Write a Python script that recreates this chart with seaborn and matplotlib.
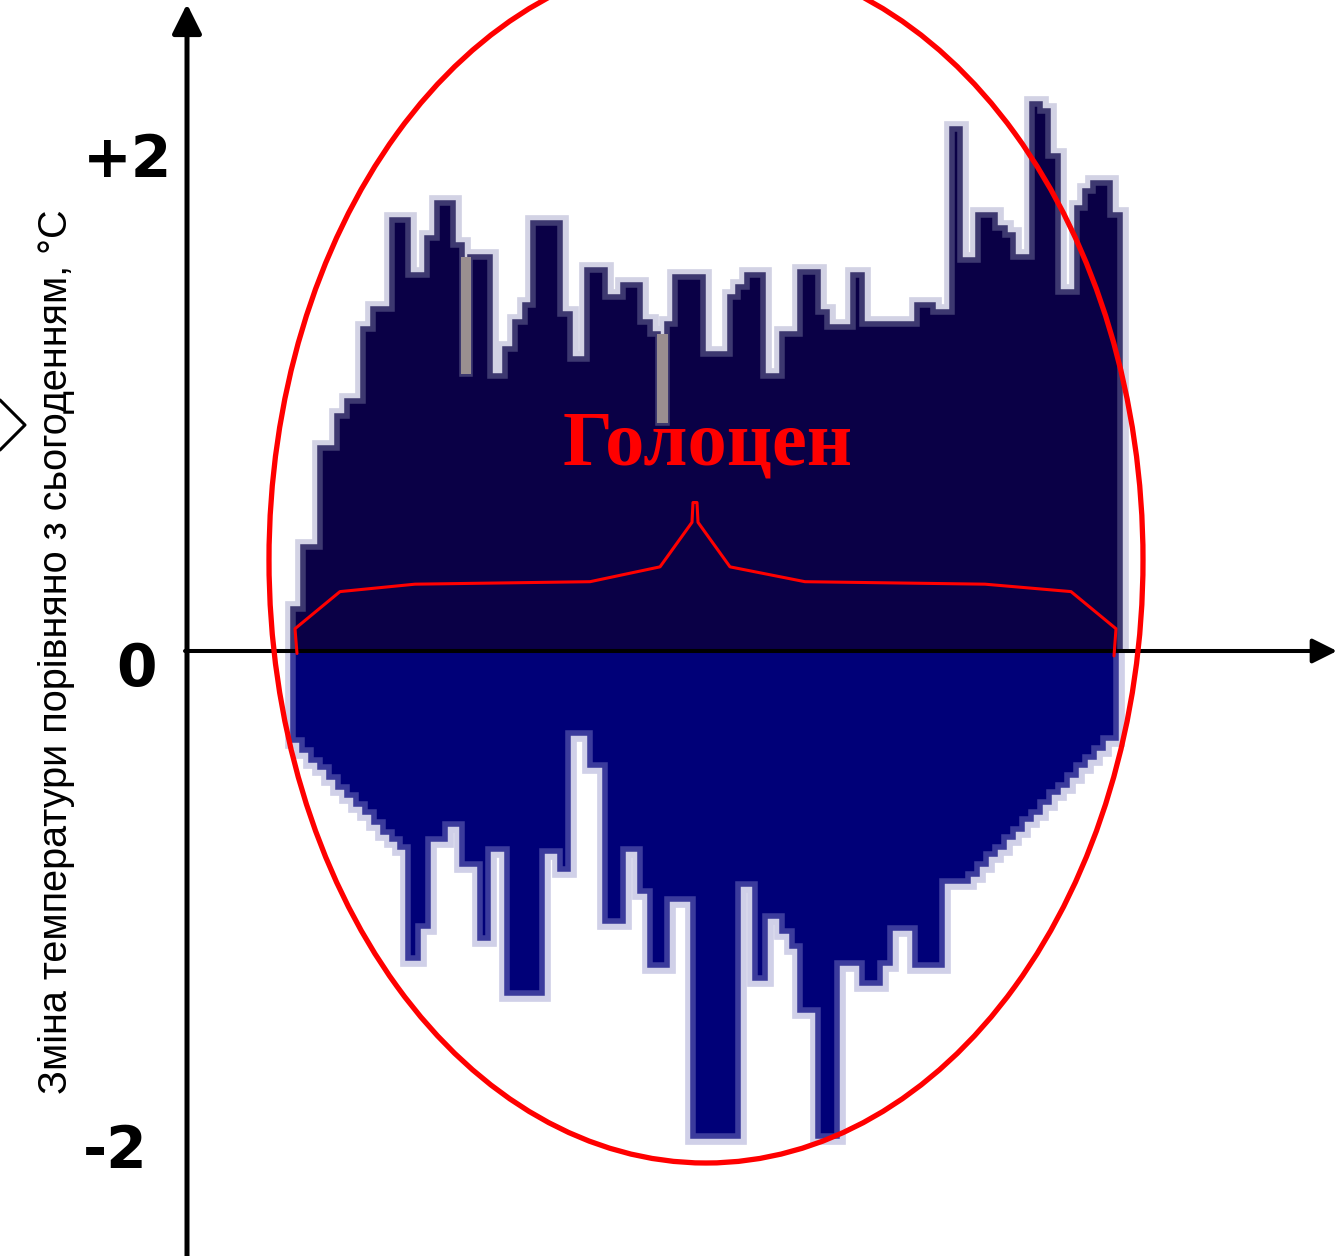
import matplotlib
matplotlib.use("Agg")
import matplotlib.pyplot as plt
from matplotlib.patches import Ellipse
import seaborn as sns

sns.set_style("white")
plt.rcParams['font.family'] = ['Liberation Sans', 'DejaVu Sans']
plt.rcParams['text.color'] = 'black'

# --- data (x in picture units, temperature in degC relative to today) ---
upper_edges = [293, 303, 320, 337, 347, 363, 373, 392, 408, 427,
               437, 453, 462, 470, 490, 505, 515, 525, 533, 560,
               570, 587, 605, 623, 640, 650, 658, 667, 675, 703,
               730, 738, 747, 763, 782, 800, 818, 827, 853, 862,
               917, 933, 952, 960, 978, 995, 1005, 1013, 1032, 1040,
               1048, 1058, 1077, 1085, 1093, 1110, 1120]
upper_vals = [0.17, 0.42, 0.82, 0.95, 1.01, 1.30, 1.38, 1.74, 1.52, 1.67,
              1.81, 1.64, 1.12, 1.59, 1.11, 1.22, 1.33, 1.40, 1.73, 1.36,
              1.18, 1.54, 1.43, 1.48, 1.33, 1.28, 0.92, 1.32, 1.51, 1.20,
              1.43, 1.47, 1.52, 1.11, 1.28, 1.53, 1.37, 1.31, 1.52, 1.32,
              1.40, 1.37, 2.11, 1.58, 1.76, 1.71, 1.68, 1.59, 2.21, 2.18,
              2.00, 1.45, 1.79, 1.86, 1.89, 1.76]

lower_edges = [293, 302, 311, 320, 329, 338, 347, 356, 365, 374,
               383, 392, 400, 408, 418, 428, 445, 462, 480, 488,
               507, 542, 560, 568, 590, 605, 623, 640, 650, 667,
               693, 738, 755, 765, 782, 792, 800, 818, 837, 862,
               880, 890, 915, 942, 968, 977, 986, 995, 1004, 1013,
               1022, 1031, 1040, 1049, 1058, 1067, 1076, 1085, 1094, 1103,
               1116]
lower_vals = [-0.36, -0.40, -0.44, -0.47, -0.51, -0.55, -0.58, -0.62, -0.65, -0.69,
              -0.73, -0.76, -0.79, -1.24, -1.11, -0.76, -0.70, -0.86, -1.16, -0.80,
              -1.38, -0.81, -0.88, -0.33, -0.46, -1.09, -0.80, -0.97, -1.27, -1.00,
              -1.96, -0.94, -1.32, -1.07, -1.13, -1.19, -1.45, -1.96, -1.26, -1.34,
              -1.26, -1.12, -1.27, -0.93, -0.90, -0.86, -0.82, -0.79, -0.75, -0.72,
              -0.68, -0.65, -0.61, -0.57, -0.54, -0.50, -0.46, -0.43, -0.39, -0.35]

# greyish columns inside the upper profile
gray_left = [461, 657]
gray_right = [471, 668]
gray_low = [1.12, 0.92]
gray_high = [1.59, 1.28]

# curly brace under the label
brace_x = [297, 295, 340, 415, 590, 660, 692, 693, 697, 698, 730, 805, 985, 1071, 1116, 1114]
brace_y = [-0.01, 0.09, 0.24, 0.27, 0.28, 0.34, 0.52, 0.60, 0.60, 0.52, 0.34, 0.28, 0.27, 0.24, 0.09, -0.02]

tick_vals = [2, 0, -2]
tick_labels = ['+2', '0', '-2']
tick_x = [83, 116, 83]

px = 247.5  # picture pixels per degree
ymin, ymax = (651 - 1256) / px, 651 / px

fig = plt.figure(figsize=(13.44, 12.56), dpi=100)
ax = fig.add_axes([0, 0, 1, 1])
ax.set_xlim(0, 1344)
ax.set_ylim(ymin, ymax)
ax.axis('off')


def profile(edges, vals, fill, mid, light):
    xs = [edges[0]] + edges[:-1] + [edges[-1], edges[-1]]
    ys = [0] + vals + [vals[-1], 0]
    sns.lineplot(x=xs, y=ys, ax=ax, sort=False, estimator=None, drawstyle='steps-post',
                 color=light, lw=12, solid_joinstyle='miter', solid_capstyle='butt',
                 zorder=1, legend=False)
    ax.fill_between(edges, vals + [vals[-1]], 0, step='post', color=fill, lw=0, zorder=2)
    sns.lineplot(x=xs, y=ys, ax=ax, sort=False, estimator=None, drawstyle='steps-post',
                 color=mid, lw=4, solid_joinstyle='miter', solid_capstyle='butt',
                 zorder=3, legend=False)


profile(upper_edges, upper_vals, '#0a0046', '#3d3870', '#d2d2e4')
profile(lower_edges, lower_vals, '#000078', '#3b3b9c', '#d0d0e8')
ax.set_xlabel('')
ax.set_ylabel('')

for l, r, lo, hi in zip(gray_left, gray_right, gray_low, gray_high):
    ax.fill_between([l, r], [lo, lo], [hi, hi], color='#9a8f90', lw=0, zorder=4)

# axes with arrows
ax.annotate('', xy=(187, (651 - 4) / px), xytext=(187, ymin - 0.1),
            arrowprops=dict(arrowstyle='-|>,head_length=1.0,head_width=0.5', color='black',
                            lw=3.6, mutation_scale=18, shrinkA=0, shrinkB=0), zorder=5)
ax.annotate('', xy=(1337, 0), xytext=(185, 0),
            arrowprops=dict(arrowstyle='-|>,head_length=1.0,head_width=0.5', color='black',
                            lw=2.9, mutation_scale=15, shrinkA=0, shrinkB=0), zorder=5)

# red oval and brace
ax.add_patch(Ellipse((706, (651 - 560) / px), 874, 2 * 603 / px, fill=False,
                     edgecolor='#ff0000', lw=3.8, zorder=6))
ax.plot(brace_x, brace_y, color='#ff0000', lw=2.2, zorder=7)

ax.text(708, (651 - 465) / px, 'Голоцен', color='#ff0000', fontsize=56.5,
        fontweight='bold', family=['Liberation Serif', 'DejaVu Serif'],
        ha='center', va='baseline', zorder=8)

baselines = [177, 686, 1168]
for v, lab, x, b in zip(tick_vals, tick_labels, tick_x, baselines):
    ax.text(x, (651 - b) / px, lab, fontsize=42, fontweight='bold', color='black',
            family=['DejaVu Sans'], ha='left', va='baseline')

ax.text(56, (651 - 652) / px, 'Зміна температури порівняно з сьогоденням, °С',
        rotation=90, fontsize=28.5, color='black', ha='center', va='center')

# cut-off chevron at the left edge
ax.plot([0, 25, 0], [(651 - 400) / px, (651 - 425) / px, (651 - 450) / px],
        color='black', lw=2.2)

fig.savefig('out.png', dpi=100)
